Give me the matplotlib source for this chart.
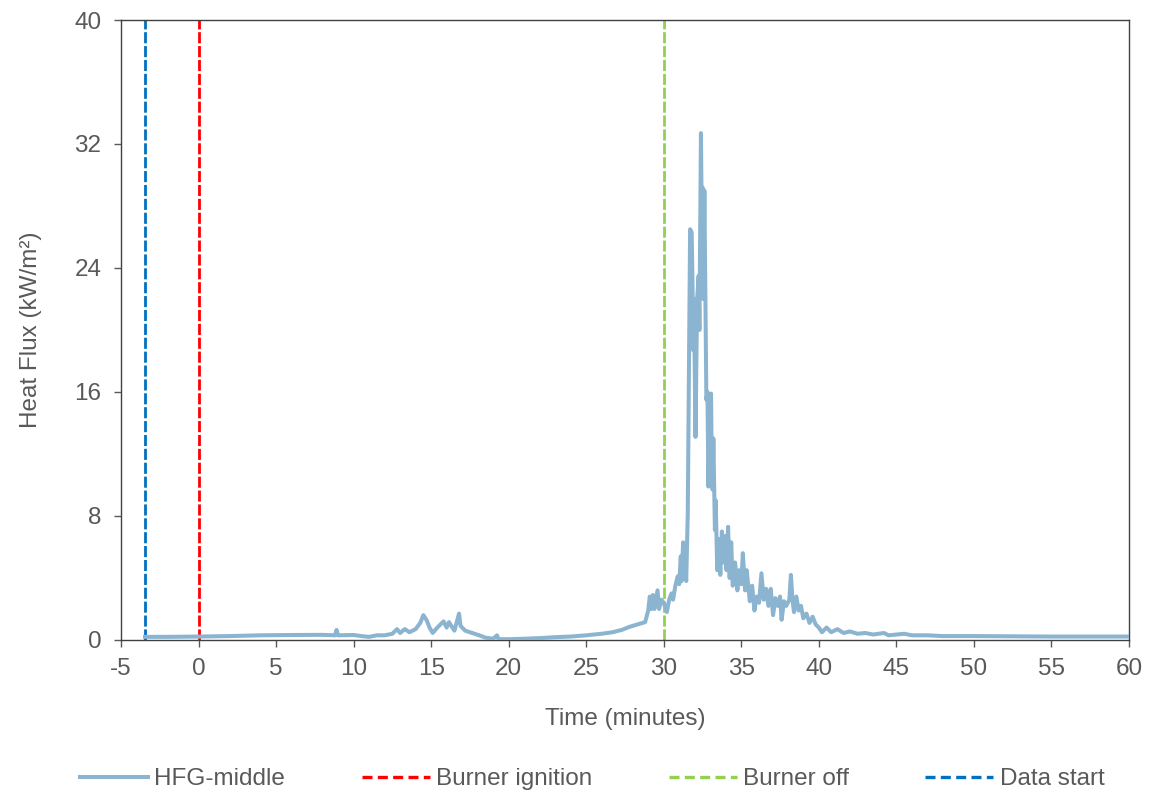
import matplotlib
matplotlib.use("Agg")
import matplotlib.pyplot as plt
from matplotlib.lines import Line2D

plt.rcParams['font.family'] = ['Liberation Sans', 'DejaVu Sans']

# ---- data ----
time_min = [-3.45, -2.0, 0.0, 2.0, 4.0, 6.0, 8.0, 8.8, 8.9, 9.0, 10.0, 10.5, 11.0, 11.5, 12.0,
            12.5, 12.8, 13.0, 13.3, 13.6, 14.0, 14.3, 14.5, 14.7, 14.9, 15.1, 15.4, 15.8, 16.0,
            16.15, 16.5, 16.8, 16.9, 17.2, 17.5, 17.8, 18.1, 18.5, 19.0, 19.25, 19.35, 20.0,
            21.0, 22.0, 23.0, 24.0, 25.0, 26.0, 26.7, 27.3, 27.8, 28.3, 28.8, 29.0, 29.1, 29.2,
            29.3, 29.4, 29.6, 29.7, 29.85, 30.0, 30.2, 30.35, 30.5, 30.6, 30.75, 30.9, 31.0,
            31.1, 31.15, 31.25, 31.35, 31.45, 31.55, 31.65, 31.7, 31.8, 31.85, 31.9, 31.95,
            32.05, 32.15, 32.25, 32.3, 32.4, 32.45, 32.5, 32.55, 32.62, 32.7, 32.75, 32.82,
            32.88, 32.95, 33.05, 33.1, 33.15, 33.2, 33.3, 33.35, 33.45, 33.55, 33.65, 33.75,
            33.85, 33.95, 34.05, 34.15, 34.25, 34.35, 34.45, 34.6, 34.75, 34.85, 35.0, 35.1,
            35.25, 35.35, 35.55, 35.7, 35.85, 36.0, 36.15, 36.3, 36.45, 36.6, 36.75, 36.9,
            37.05, 37.2, 37.35, 37.5, 37.6, 37.75, 37.9, 38.1, 38.2, 38.3, 38.4, 38.55, 38.7,
            38.85, 39.0, 39.2, 39.4, 39.6, 39.8, 40.0, 40.2, 40.5, 40.8, 41.2, 41.6, 42.0,
            42.5, 43.0, 43.5, 44.2, 44.5, 45.5, 46.0, 47.0, 48.0, 50.0, 55.0, 60.0]
hfg_middle = [0.20, 0.20, 0.22, 0.25, 0.30, 0.32, 0.33, 0.30, 0.65, 0.30, 0.32, 0.25, 0.20, 0.30, 0.30,
              0.40, 0.70, 0.45, 0.70, 0.50, 0.70, 1.10, 1.60, 1.30, 0.80, 0.45, 0.80, 1.20, 0.80,
              1.15, 0.60, 1.70, 0.90, 0.60, 0.50, 0.40, 0.30, 0.15, 0.08, 0.30, 0.05, 0.05,
              0.08, 0.12, 0.18, 0.22, 0.30, 0.40, 0.50, 0.65, 0.85, 1.00, 1.15, 1.90, 2.80, 2.00,
              2.90, 2.00, 3.20, 2.00, 2.60, 2.40, 1.80, 2.60, 3.00, 2.60, 3.50, 4.10, 3.60,
              5.40, 3.80, 6.30, 5.00, 3.80, 8.20, 20.0, 26.5, 26.3, 23.4, 18.7, 22.0,
              13.1, 21.9, 23.5, 20.0, 32.7, 27.0, 29.2, 22.0, 29.0, 20.6, 15.5, 16.0,
              9.9, 13.0, 15.9, 11.0, 9.7, 13.0, 7.1, 9.0, 4.5, 6.5, 4.2, 7.0,
              5.0, 6.7, 4.5, 7.3, 4.0, 6.3, 3.5, 5.0, 3.2, 4.5, 3.6, 5.6,
              3.2, 4.5, 2.5, 3.5, 1.9, 2.8, 2.4, 4.3, 2.6, 3.3, 2.2, 3.3,
              1.6, 2.7, 2.2, 2.8, 1.3, 2.5, 2.2, 2.6, 4.2, 2.6, 1.8, 2.8, 1.9,
              2.2, 1.4, 1.7, 1.1, 1.5, 1.0, 0.8, 0.5, 0.8, 0.5, 0.7, 0.45, 0.55,
              0.40, 0.45, 0.35, 0.45, 0.30, 0.40, 0.30, 0.30, 0.25, 0.25, 0.22, 0.22]

event_labels = ["Burner ignition", "Burner off", "Data start"]
event_times = [0.0, 30.0, -3.45]
event_colors = ["#FF0000", "#92D050", "#0070C0"]

series_label = "HFG-middle"
x_ticks = list(range(-5, 61, 5))
y_ticks = [0, 8, 16, 24, 32, 40]

# ---- figure ----
fig = plt.figure(figsize=(11.5, 7.94), dpi=100)
ax = fig.add_axes([0.1052, 0.1940, 0.8765, 0.7808])

line_color = "#8BB4D0"
text_color = "#595959"
fs = 17.5

ax.plot(time_min, hfg_middle, color=line_color, lw=2.9, solid_joinstyle='round', zorder=3)
for t, c in zip(event_times, event_colors):
    ax.axvline(t, color=c, lw=2.0, linestyle=(0, (4, 1)), zorder=2)

ax.set_xlim(-5, 60)
ax.set_ylim(0, 40)
ax.set_xticks(x_ticks)
ax.set_xticklabels([str(v) for v in x_ticks])
ax.set_yticks(y_ticks)

for s in ax.spines.values():
    s.set_color("#404040")
    s.set_linewidth(1.0)

ax.tick_params(axis='both', direction='out', length=5, width=1, color="#595959",
               labelsize=fs, labelcolor=text_color)
ax.tick_params(axis='x', pad=8)
ax.tick_params(axis='y', pad=9)

ax.set_xlabel("Time (minutes)", fontsize=fs, color=text_color, labelpad=20)
ax.set_ylabel("Heat Flux (kW/m²)", fontsize=fs, color=text_color, labelpad=23)

handles = [Line2D([], [], color=line_color, lw=2.9)]
for c in event_colors:
    handles.append(Line2D([], [], color=c, lw=2.4, linestyle=(0, (3, 1.6))))
labels = [series_label] + event_labels

fig.legend(handles, labels, loc='center', bbox_to_anchor=(0.515, 1 - 779 / 794), ncol=4,
           frameon=False, fontsize=fs, labelcolor=text_color, handlelength=2.8,
           handletextpad=0.25, columnspacing=3.15)

fig.savefig("out.png", dpi=100)
